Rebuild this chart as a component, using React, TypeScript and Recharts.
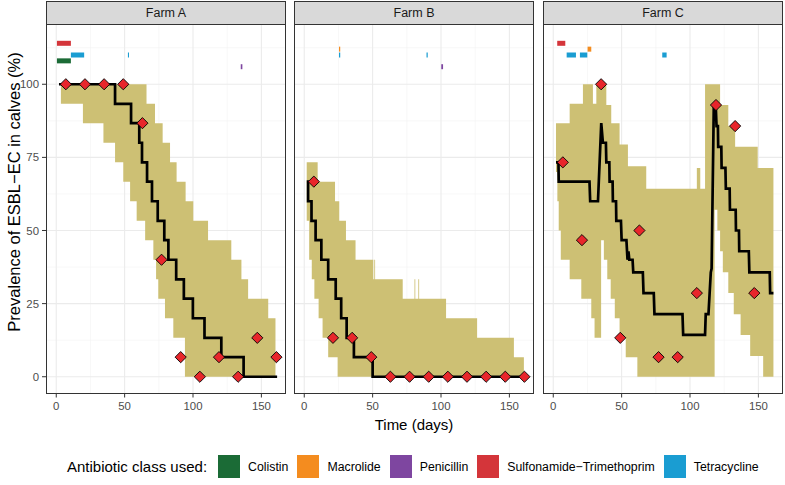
import React from "react";
import { Area, CartesianGrid, ComposedChart, Line, Scatter, XAxis, YAxis } from "recharts";

const FONT = '"Liberation Sans", Arial, sans-serif';

const farms = ["Farm A", "Farm B", "Farm C"];
const classes = ["Colistin", "Macrolide", "Penicillin", "Sulfonamide\u2212Trimethoprim", "Tetracycline"];
const classColors = ["#1b6b36", "#f48c1f", "#7e46a0", "#d4353a", "#1a9dd2"];
// row (y value) where each class is drawn above the curves
const classLevels = [108, 112, 106, 114, 110];

const xMajor = [0, 50, 100, 150];
const xMinor = [25, 75, 125];
const yMajor = [0, 25, 50, 75, 100];
const yMinor = [12.5, 37.5, 62.5, 87.5, 112.5];

// observed prevalence at each sampling visit
const sampleDays = [7, 21, 35, 49, 63, 77, 91, 105, 119, 133, 147, 161];
const observedA = [100, 100, 100, 100, 86.7, 40, 6.7, 0, 6.7, 0, 13.3, 6.7];
const observedB = [66.7, 13.3, 13.3, 6.7, 0, 0, 0, 0, 0, 0, 0, 0];
const observedC = [73.3, 46.7, 100, 13.3, 50, 6.7, 6.7, 28.6, 92.9, 85.7, 28.6];

// model median [day, value]
const medianA = [
  [2, 100], [43, 93.3], [54.7, 86.7], [60.7, 80], [62.7, 73.3], [66.4, 66.7], [70, 60],
  [74.2, 53.3], [79, 46.7], [82, 40], [87.7, 33.3], [93.3, 26.7], [99.9, 20], [108.4, 13.3],
  [120.7, 6.7], [137, 0], [161.5, 0],
];
const medianB = [
  [1.8, 66.7], [2.8, 60], [5.3, 53.3], [8.3, 46.7], [12.5, 40], [17.5, 33.3], [23, 26.7],
  [27, 20], [31, 13.3], [36.3, 6.7], [50, 0], [161, 0],
];
const medianC = [
  [2, 73.3], [3.8, 73.3], [4, 66.7], [26.5, 66.7], [27, 60], [32.7, 60], [35.1, 86.7],
  [36.3, 80], [38.5, 80], [38.8, 73.3], [41, 73.3], [41.2, 66.7], [43.4, 66.7], [43.6, 60],
  [45.9, 60], [46.1, 53.3], [49.5, 53.3], [50, 46.7], [53.5, 46.7], [54.3, 40], [55, 42.9],
  [55.6, 40], [58, 40], [58.5, 35.7], [65.5, 35.7], [66, 28.6], [73.5, 28.6], [74, 21.4],
  [94.5, 21.4], [95, 14.3], [111, 14.3], [111.5, 21.4], [113.5, 21.4], [115.2, 35.7],
  [115.8, 37], [117.4, 92.9], [118.8, 92.9], [119.4, 85.7], [120.4, 85.7], [120.6, 78.6],
  [122.9, 78.6], [123.1, 71.4], [125.9, 71.4], [126.2, 64.3], [129, 64.3], [129.2, 57.1],
  [133.4, 57.1], [133.6, 50], [135.8, 50], [136, 42.9], [143, 42.9], [143.4, 35.7],
  [158.3, 35.7], [158.6, 28.6], [161, 28.6],
];

// credible band [day, low, high], held until the next row
const bandA = [
  [3.4, 93.3, 100], [19.5, 86.7, 100], [34.5, 80, 100], [43, 73.3, 100], [49, 66.7, 100],
  [54, 60, 100], [58.8, 53.3, 100], [65, 46.7, 100], [66, 46.7, 93.3], [71, 40, 93.3],
  [72.2, 40, 86.7], [73, 33.3, 86.7], [74.6, 26.7, 86.7], [77.8, 26.7, 80], [79.5, 20, 80],
  [83.2, 20, 73.3], [85.6, 13.3, 73.3], [88, 13.3, 66.7], [94.1, 0, 66.7], [94.6, 0, 60],
  [100.2, 0, 53.3], [111, 0, 46.7], [128, 0, 40], [135.4, 0, 33.3], [140.3, 0, 26.7],
  [155, 0, 20], [160.3, 0, 20],
];
const bandB = [
  [1.8, 53.3, 73.3], [3.6, 40, 73.3], [5.5, 33.3, 73.3], [7.4, 26.7, 73.3], [9.8, 26.7, 66.7],
  [10.5, 20, 66.7], [13.4, 13.3, 66.7], [17.5, 6.7, 66.7], [22.5, 6.7, 60], [24.4, 0, 60],
  [25.6, 0, 53.3], [30.5, 0, 46.7], [37.5, 0, 40], [50.5, 0, 33.3], [51.2, 0, 40],
  [51.8, 0, 33.3], [72, 0, 26.7], [80.6, 0, 33.3], [81.2, 0, 26.7], [83.4, 0, 33.3],
  [84, 0, 26.7], [103.7, 0, 20], [126.4, 0, 13.3], [153.3, 0, 6.7], [160.6, 0, 6.7],
];
const bandC = [
  [2, 70, 86.7], [3, 60, 86.7], [4, 50, 86.7], [5.5, 40, 86.7], [12, 33.3, 93.3],
  [20.5, 26.7, 93.3], [21.7, 26.7, 100], [27.8, 20, 100], [29, 20, 93.3], [30.2, 13.3, 93.3],
  [31.5, 13.3, 100], [35, 46.7, 100], [37, 40, 100], [38.8, 40, 92.9], [39.5, 33.3, 92.9],
  [42, 26.7, 92.9], [42.4, 26.7, 86.7], [45, 20, 86.7], [48.5, 13.3, 79.4], [53, 6.7, 79.4],
  [54.6, 6.7, 72], [61.5, 0, 72], [68, 0, 64.3], [105, 0, 71.4], [107.5, 0, 64.3],
  [111, 0, 100], [118, 57.1, 100], [120, 50, 100], [122, 42.9, 92.9], [124, 35.7, 92.9],
  [128, 28.6, 85.7], [132, 21.4, 85.7], [133, 21.4, 78.6], [137, 14.3, 78.6], [144, 7.1, 78.6],
  [149.5, 7.1, 71.4], [153.5, 0, 71.4], [161, 0, 71.4],
];

// antibiotic use [class index, first day, last day]
const usedA = [[3, 0.5, 10.7], [0, 0.5, 10.7], [4, 10.7, 20.4], [4, 52.4, 53.2], [2, 134.9, 136.1]];
const usedB = [[1, 25.4, 26.3], [4, 25.4, 26.3], [4, 89.4, 90.3], [2, 100.2, 101.5]];
const usedC = [[3, 2.9, 8.8], [4, 9.8, 16.6], [4, 19.5, 24.9], [1, 25.1, 27.8], [4, 79.7, 82.9]];

const X_DOMAIN = [-7.5, 168];
const Y_DOMAIN = [-5.9, 120.6];
const PANEL_TOP = 24;
const PANEL_H = 370;

const toBand = (rows: number[][]) => rows.map(([x, lo, hi]) => ({ x, band: [lo, hi] }));
const toPts = (rows: number[][]) => rows.map(([x, y]) => ({ x, y }));
const toObs = (vals: number[]) => vals.map((y, i) => ({ x: sampleDays[i], y }));

const Diamond = (props: any) => {
  const { cx, cy } = props;
  if (cx == null || cy == null) return null;
  const r = 5.6;
  return (
    <path
      d={`M${cx},${cy - r}L${cx + r},${cy}L${cx},${cy + r}L${cx - r},${cy}Z`}
      fill="#e8262b"
      stroke="#000"
      strokeWidth={0.9}
    />
  );
};

interface PanelProps {
  left: number;
  plotLeft: number;
  width: number;
  title: string;
  showY: boolean;
  band: number[][];
  median: number[][];
  medianType: "stepAfter" | "linear";
  observed: number[];
  used: number[][];
}

const Panel = ({ left, plotLeft, width, title, showY, band, median, medianType, observed, used }: PanelProps) => {
  const axisTick = { fill: "#4d4d4d", fontSize: 11.4, fontFamily: FONT };
  return (
    <>
      <div
        style={{
          position: "absolute",
          left: plotLeft,
          top: 1,
          width: 240,
          height: 24,
          boxSizing: "border-box",
          border: "1px solid #333",
          background: "#d9d9d9",
          color: "#1a1a1a",
          fontFamily: FONT,
          fontSize: 12.5,
          display: "flex",
          alignItems: "center",
          justifyContent: "center",
        }}
      >
        {title}
      </div>
      <div style={{ position: "absolute", left, top: PANEL_TOP }}>
        <ComposedChart width={width} height={PANEL_H + 22} margin={{ top: 0, right: 0, bottom: 0, left: 0 }}>
          <CartesianGrid horizontalValues={yMinor} verticalValues={xMinor} stroke="#f3f3f3" strokeWidth={0.6} />
          <CartesianGrid horizontalValues={yMajor} verticalValues={xMajor} stroke="#ebebeb" strokeWidth={1.1} />
          <XAxis
            type="number"
            dataKey="x"
            domain={X_DOMAIN}
            allowDataOverflow
            ticks={xMajor}
            height={22}
            axisLine={false}
            tickLine={{ stroke: "#333" }}
            tickSize={3.5}
            tickMargin={4}
            tick={axisTick}
          />
          <YAxis
            type="number"
            dataKey="y"
            domain={Y_DOMAIN}
            allowDataOverflow
            ticks={yMajor}
            hide={!showY}
            width={46}
            axisLine={false}
            tickLine={{ stroke: "#333" }}
            tickSize={4}
            tickMargin={3}
            tick={axisTick}
          />
          <Area
            data={toBand(band)}
            dataKey="band"
            type="stepAfter"
            fill="#cdc074"
            fillOpacity={1}
            stroke="none"
            isAnimationActive={false}
          />
          <Line
            data={toPts(median)}
            dataKey="y"
            type={medianType}
            stroke="#000"
            strokeWidth={2.7}
            dot={false}
            activeDot={false}
            isAnimationActive={false}
          />
          {used.map(([c, s, e], i) => (
            <Line
              key={i}
              data={[
                { x: s, y: classLevels[c] },
                { x: e, y: classLevels[c] },
              ]}
              dataKey="y"
              stroke={classColors[c]}
              strokeWidth={5}
              dot={false}
              activeDot={false}
              isAnimationActive={false}
            />
          ))}
          <Scatter data={toObs(observed)} dataKey="y" shape={Diamond} isAnimationActive={false} />
        </ComposedChart>
      </div>
      <div
        style={{
          position: "absolute",
          left: plotLeft,
          top: PANEL_TOP,
          width: 240,
          height: PANEL_H,
          boxSizing: "border-box",
          border: "1px solid #333",
          pointerEvents: "none",
        }}
      />
    </>
  );
};

export default function App() {
  return (
    <div style={{ position: "absolute", left: 0, top: 0, width: 785, height: 485, background: "#fff", fontFamily: FONT }}>
      <Panel left={0} plotLeft={46} width={286} title={farms[0]} showY band={bandA} median={medianA}
        medianType="stepAfter" observed={observedA} used={usedA} />
      <Panel left={294} plotLeft={294} width={240} title={farms[1]} showY={false} band={bandB} median={medianB}
        medianType="stepAfter" observed={observedB} used={usedB} />
      <Panel left={543} plotLeft={543} width={240} title={farms[2]} showY={false} band={bandC} median={medianC}
        medianType="linear" observed={observedC} used={usedC} />

      <div
        style={{
          position: "absolute",
          left: 14,
          top: 192,
          transform: "translate(-50%, -50%) rotate(-90deg)",
          whiteSpace: "nowrap",
          fontSize: 16.5,
          color: "#000",
        }}
      >
        Prevalence of ESBL{"\u2212"}EC in calves (%)
      </div>
      <div
        style={{
          position: "absolute",
          left: 414,
          top: 424,
          transform: "translate(-50%, -50%)",
          whiteSpace: "nowrap",
          fontSize: 15,
          color: "#000",
        }}
      >
        Time (days)
      </div>

      <div style={{ position: "absolute", left: 67, top: 455, height: 23, display: "flex", alignItems: "center" }}>
        <span style={{ fontSize: 15, marginRight: 11, whiteSpace: "nowrap" }}>Antibiotic class used:</span>
        {classes.map((c, i) => (
          <React.Fragment key={c}>
            <span style={{ width: 22, height: 23, background: classColors[i], display: "inline-block", marginRight: 8 }} />
            <span style={{ fontSize: 12.3, marginRight: 9, whiteSpace: "nowrap" }}>{c}</span>
          </React.Fragment>
        ))}
      </div>
    </div>
  );
}
